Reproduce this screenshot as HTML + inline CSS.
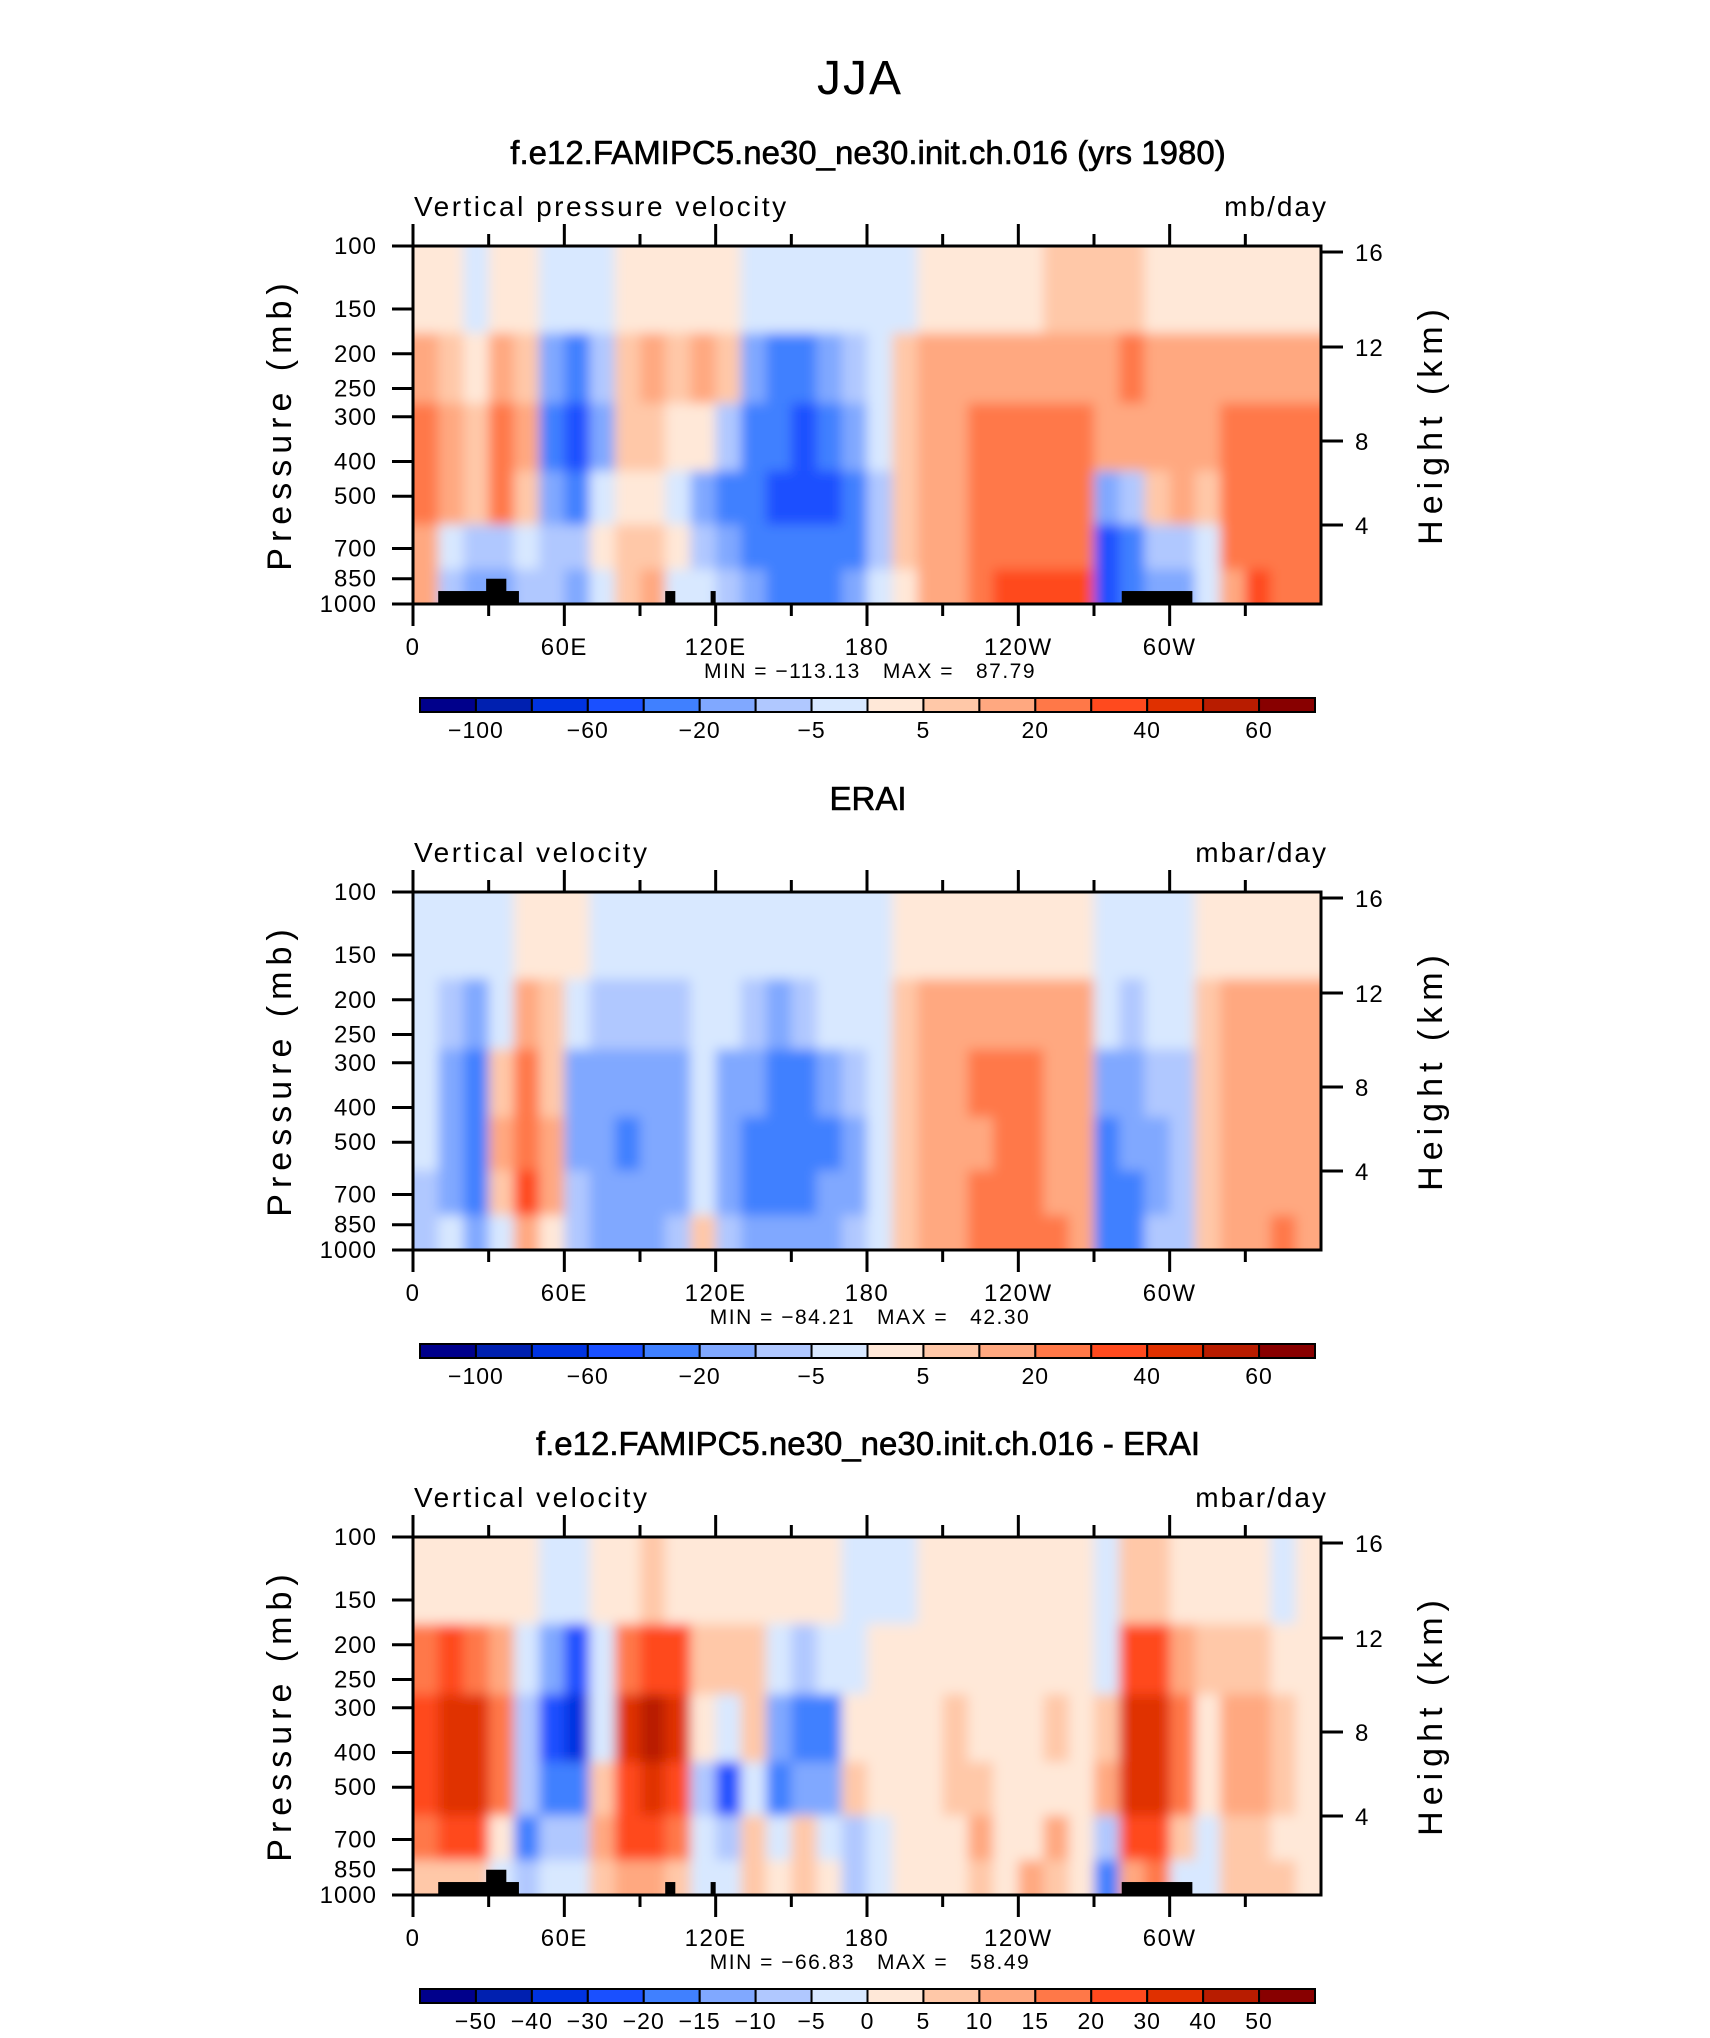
<!DOCTYPE html>
<html><head><meta charset="utf-8">
<style>
html,body{margin:0;padding:0;background:#fff;}
svg{display:block;font-family:"Liberation Sans",sans-serif;}
.pre{white-space:pre;}
</style></head>
<body>
<svg id="fig" width="1710" height="2038" viewBox="0 0 1710 2038" xmlns="http://www.w3.org/2000/svg">
<defs><filter id="soft" x="-5%" y="-10%" width="110%" height="120%"><feGaussianBlur stdDeviation="6"/></filter></defs>
<text x="860" y="94" font-size="48" text-anchor="middle" font-weight="300" letter-spacing="2">JJA</text>
</svg>
<script>
// ---- data ----
const lonCenters=[5,15,25,35,45,55,65,75,85,95,105,115,125,135,145,155,165,175,185,195,205,215,225,235,245,255,265,275,285,295,305,315,325,335,345,355];
const levelEdges=[100,175,275,425,600,800,1000];
const modelVals=[
[2,3,-3,2,2,-3,-5,-3,2,3,2,2,3,-3,-5,-5,-3,-3,-3,-2,3,3,3,3,3,5,5,5,5,3,3,3,3,3,3,3],
[10,5,3,10,5,-20,-40,-10,5,10,5,10,5,-20,-30,-40,-20,-10,-3,5,10,10,15,15,15,15,15,15,20,15,15,10,15,15,15,10],
[25,10,5,25,10,-40,-60,-20,5,5,2,3,-10,-30,-40,-60,-40,-20,-5,5,15,15,25,20,20,25,25,10,10,15,15,10,25,25,25,20],
[25,10,5,20,5,-20,-30,-5,0,3,-5,-20,-30,-40,-50,-60,-50,-30,-10,5,15,15,25,25,25,25,25,-20,-10,5,10,5,25,25,25,20],
[10,-5,-10,-10,-5,-10,-10,0,5,5,0,-10,-20,-30,-40,-40,-40,-30,-10,5,15,15,25,25,25,25,25,-50,-30,-10,-10,-5,20,25,25,20],
[10,-10,-20,-20,-10,-10,-20,-5,5,10,-5,-5,-10,-20,-30,-30,-30,-20,-5,3,10,15,20,30,30,30,30,-60,-40,-20,-20,-5,15,30,25,20]];
const eraVals=[
[-2,-3,-3,-2,0,3,2,-2,-3,-3,-3,-2,-2,-3,-3,-3,-2,-2,-2,3,3,3,3,3,3,3,3,-2,-3,-2,-2,2,3,3,3,3],
[-2,-10,-20,-5,10,5,-5,-10,-10,-10,-10,-3,-5,-10,-15,-10,-5,-5,-3,5,10,10,10,10,10,10,10,-5,-10,-5,-5,5,10,10,10,10],
[-5,-20,-30,5,25,5,-20,-20,-20,-20,-20,-5,-20,-20,-30,-30,-20,-10,-5,5,10,15,20,25,20,15,15,-20,-20,-10,-10,5,10,15,15,15],
[-5,-20,-30,10,25,10,-20,-20,-30,-20,-20,-5,-20,-30,-30,-40,-30,-20,-5,5,10,15,15,20,20,15,15,-30,-20,-20,-10,5,10,15,15,15],
[-10,-20,-30,5,30,10,-10,-20,-20,-20,-20,-5,-20,-30,-40,-30,-20,-20,-5,5,10,15,20,20,20,15,15,-40,-30,-20,-10,5,10,15,15,15],
[-10,-5,-20,-5,10,0,-10,-15,-15,-15,-10,5,-10,-20,-20,-20,-20,-10,-5,5,10,15,20,20,20,20,15,-40,-30,-10,-10,5,10,15,20,15]];
const diffVals=[
[2,3,3,2,2,-3,-5,2,3,5,3,2,2,2,0,0,0,-2,-2,-2,2,2,2,2,2,2,2,-2,5,5,3,2,2,2,-2,2],
[15,20,15,10,-5,-15,-30,-5,15,20,20,5,5,5,-5,-10,-5,-2,0,2,3,3,3,3,3,3,3,-5,20,20,10,5,5,5,2,2],
[25,30,30,15,-10,-30,-40,-5,30,40,30,0,-5,5,-15,-20,-20,0,0,3,3,5,3,3,3,5,3,5,30,30,15,3,10,10,5,3],
[25,30,30,15,-10,-20,-20,5,20,30,20,-10,-30,-5,-20,-15,-15,5,0,3,3,5,5,3,3,3,3,10,30,30,15,3,10,10,5,3],
[15,20,20,0,-20,-10,-10,10,20,20,15,-5,-10,5,-5,5,-5,-10,-5,3,3,3,10,3,3,10,3,-10,20,25,5,-5,5,5,3,3],
[5,5,5,-5,-10,-5,-5,5,10,10,5,-5,-5,5,0,5,0,-10,-5,2,3,3,5,3,10,5,3,-20,10,15,-5,-5,5,5,5,3]];
const levels1=[-100,-80,-60,-40,-20,-10,-5,0,5,10,20,30,40,50,60];
const labels1=["-100","","-60","","-20","","-5","","5","","20","","40","","60"];
const levels3=[-50,-40,-30,-20,-15,-10,-5,0,5,10,15,20,30,40,50];
const labels3=["-50","-40","-30","-20","-15","-10","-5","0","5","10","15","20","30","40","50"];
const pTicks=[100,150,200,250,300,400,500,700,850,1000];
const hTicks=[16,12,8,4];
const lonTicks=[0,60,120,180,240,300];
const lonLabels=["0","60E","120E","180","120W","60W"];
const topoBlocks=[[10,42,920],[29,37,850],[100,104,920],[118,120,920],[281,309,920]];
const minmax=["MIN = \u2212113.13   MAX =   87.79","MIN = \u221284.21   MAX =   42.30","MIN = \u221266.83   MAX =   58.49"];
const colors=["#00008b","#0020b0","#0033e0","#1a50ff","#4080ff","#80a8ff","#b0c8ff","#d8e8ff","#ffe8d8","#ffc8a8","#ffa880","#ff7848","#ff4a1e","#e03000","#b81c00","#880000"];
// ---- layout ----
const NS="http://www.w3.org/2000/svg";
const svg=document.getElementById('fig');
const X0=413,X1=1321;
function xs(lon){return X0+(lon/360)*(X1-X0);}
function mk(tag,attrs,parent){const e=document.createElementNS(NS,tag);for(const k in attrs)e.setAttribute(k,attrs[k]);(parent||svg).appendChild(e);return e;}
function colorFor(v,lv){let i=0;while(i<lv.length&&v>=lv[i])i++;return colors[i];}
const hRel={16:6,12:101,8:195,4:279};
const panels=[
 {dy:0,title:"f.e12.FAMIPC5.ne30_ne30.init.ch.016 (yrs 1980)",left:"Vertical pressure velocity",right:"mb/day",vals:modelVals,lv:levels1,lab:labels1,topo:true,name:"model"},
 {dy:646,title:"ERAI",left:"Vertical velocity",right:"mbar/day",vals:eraVals,lv:levels1,lab:labels1,topo:false,name:"erai"},
 {dy:1291,title:"f.e12.FAMIPC5.ne30_ne30.init.ch.016 - ERAI",left:"Vertical velocity",right:"mbar/day",vals:diffVals,lv:levels3,lab:labels3,topo:true,name:"difference"}];
const defs=svg.querySelector('defs');
panels.forEach((P,pi)=>{
 const top=246+P.dy,bot=604+P.dy,H=bot-top;
 function ys(p){return top+(Math.log10(p)-2)*H;}
 const cp=mk('clipPath',{id:'clip'+pi},defs);
 mk('rect',{x:X0,y:top,width:X1-X0,height:H},cp);
 const g=mk('g',{});
 
 
 let t=mk('text',{x:868,y:164+P.dy,'font-size':33,'text-anchor':'middle','stroke':'#000','stroke-width':0.6},g);t.textContent=P.title;
 
 t=mk('text',{x:414,y:216+P.dy,'font-size':28,'letter-spacing':2.5},g);t.textContent=P.left;
 
 t=mk('text',{x:1328,y:216+P.dy,'font-size':28,'letter-spacing':2,'text-anchor':'end'},g);t.textContent=P.right;
 
 const clipG=mk('g',{'clip-path':`url(#clip${pi})`},g);
 const cg=mk('g',{filter:'url(#soft)'},clipG);
 
 const nr=P.vals.length;
 P.vals.forEach((row,ri)=>{row.forEach((v,ci)=>{
  let x=xs(lonCenters[ci]-5),x2=xs(lonCenters[ci]+5);
  let y=ys(levelEdges[ri]),y2=ys(levelEdges[ri+1]);
  if(ci===0)x-=20; if(ci===row.length-1)x2+=20;
  if(ri===0)y-=20; if(ri===nr-1)y2+=20;
  const r=mk('rect',{x:x,y:y,width:x2-x+0.6,height:y2-y+0.6,fill:colorFor(v,P.lv)},cg);
  
  
 });});
 if(P.topo){topoBlocks.forEach(b=>{
  const r=mk('rect',{x:xs(b[0]),y:ys(b[2]),width:xs(b[1])-xs(b[0]),height:bot-ys(b[2]),fill:'#000'},g);
  
 });}
 const fr=mk('rect',{x:X0,y:top,width:X1-X0,height:H,fill:'none',stroke:'#000','stroke-width':3},g);
 
 for(let lon=0;lon<360;lon+=30){
  const major=lon%60===0,L=major?22:12,x=xs(lon);
  mk('line',{x1:x,x2:x,y1:top,y2:top-L,stroke:'#000','stroke-width':3},g);
  mk('line',{x1:x,x2:x,y1:bot,y2:bot+L,stroke:'#000','stroke-width':3},g);
 }
 lonTicks.forEach((lon,i)=>{
  const tl=mk('text',{x:xs(lon),y:655+P.dy,'font-size':24,'letter-spacing':1.5,'text-anchor':'middle'},g);tl.textContent=lonLabels[i];
  
 });
 t=mk('text',{x:870,y:678+P.dy,'font-size':21,'letter-spacing':1.5,'text-anchor':'middle','class':'pre'},g);t.textContent=minmax[pi];
 
 pTicks.forEach(p=>{
  const y=ys(p);
  mk('line',{x1:X0-21,x2:X0,y1:y,y2:y,stroke:'#000','stroke-width':3},g);
  const tl=mk('text',{x:377,y:y+8,'font-size':24,'letter-spacing':1,'text-anchor':'end'},g);tl.textContent=p;
  
 });
 hTicks.forEach(h=>{
  const y=top+hRel[h];
  mk('line',{x1:X1,x2:X1+22,y1:y,y2:y,stroke:'#000','stroke-width':3},g);
  const tl=mk('text',{x:1355,y:y+9,'font-size':24,'letter-spacing':1},g);tl.textContent=h;
  
 });
 t=mk('text',{x:0,y:0,'font-size':34,'text-anchor':'middle','letter-spacing':6,transform:`translate(291,${top+178}) rotate(-90)`},g);t.textContent="Pressure (mb)";
 
 t=mk('text',{x:0,y:0,'font-size':34,'text-anchor':'middle','letter-spacing':6,transform:`translate(1442,${top+178}) rotate(-90)`},g);t.textContent="Height (km)";
 
 const cb=mk('g',{},g);
 
 const cx0=420,cx1=1315,cy=698+P.dy,ch=14,bw=(cx1-cx0)/16;
 colors.forEach((c,i)=>{
  const r=mk('rect',{x:cx0+i*bw,y:cy,width:bw,height:ch,fill:c,stroke:'#000','stroke-width':2},cb);
  
 });
 P.lab.forEach((l,i)=>{
  if(!l)return;
  const tl=mk('text',{x:cx0+(i+1)*bw,y:cy+40,'font-size':23,'letter-spacing':1,'text-anchor':'middle'},cb);tl.textContent=l.replace('-','\u2212');
  
 });
});
</script>
</body></html>
